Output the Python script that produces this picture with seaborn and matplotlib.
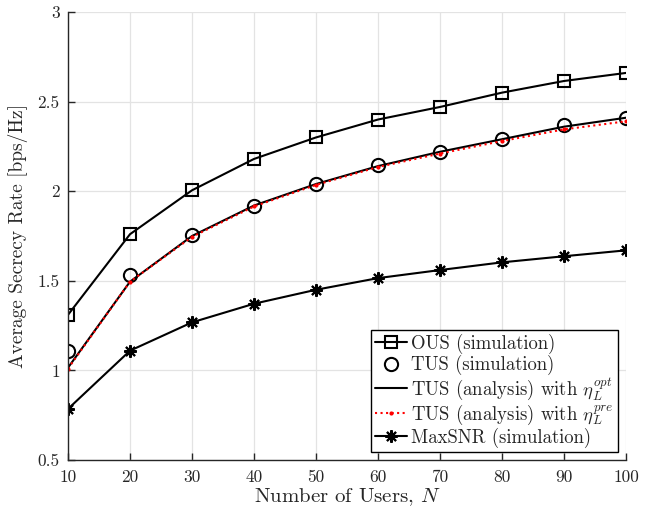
import numpy as np
import pandas as pd
import matplotlib
matplotlib.use("Agg")
import matplotlib.pyplot as plt
import seaborn as sns

users = [10, 20, 30, 40, 50, 60, 70, 80, 90, 100]
ous_sim = [1.31, 1.76, 2.005, 2.18, 2.30, 2.40, 2.47, 2.55, 2.615, 2.66]
tus_sim = [1.11, 1.53, 1.755, 1.92, 2.04, 2.145, 2.22, 2.29, 2.37, 2.41]
tus_opt = [1.015, 1.495, 1.75, 1.92, 2.04, 2.14, 2.22, 2.29, 2.36, 2.41]
tus_pre = [1.01, 1.495, 1.745, 1.915, 2.035, 2.135, 2.21, 2.28, 2.345, 2.39]
maxsnr_sim = [0.785, 1.11, 1.268, 1.372, 1.45, 1.515, 1.56, 1.603, 1.637, 1.67]

labels = ["OUS (simulation)", "TUS (simulation)",
          r"TUS (analysis) with $\eta_L^{opt}$",
          r"TUS (analysis) with $\eta_L^{pre}$",
          "MaxSNR (simulation)"]
xticks = [10, 20, 30, 40, 50, 60, 70, 80, 90, 100]
yticks = [0.5, 1, 1.5, 2, 2.5, 3]
ytick_labels = ["0.5", "1", "1.5", "2", "2.5", "3"]

sns.set_style("white")
plt.rcParams["font.family"] = ["cmr10"]
plt.rcParams["mathtext.fontset"] = "cm"
plt.rcParams["axes.formatter.use_mathtext"] = True

fig = plt.figure(figsize=(6.56, 5.16), dpi=100)
ax = fig.add_axes([68/656, 56/516, (626-68)/656, (460-12)/516])

sns.lineplot(x=users, y=ous_sim, ax=ax, color="black", lw=1.5, marker="s",
             markersize=8, markerfacecolor="none", markeredgecolor="black",
             markeredgewidth=1.5, label=labels[0])
sns.lineplot(x=users, y=tus_sim, ax=ax, color="black", lw=0, marker="o",
             markersize=9.5, markerfacecolor="none", markeredgecolor="black",
             markeredgewidth=1.5, label=labels[1])
sns.lineplot(x=users, y=tus_opt, ax=ax, color="black", lw=1.5,
             label=labels[2])
sns.lineplot(x=users, y=tus_pre, ax=ax, color="red", lw=1.5, ls=":",
             marker="o", markersize=3, markeredgewidth=0, label=labels[3])
sns.lineplot(x=users, y=maxsnr_sim, ax=ax, color="black", lw=1.5,
             marker=(8, 2, 0), markersize=9, markeredgewidth=1.5,
             markeredgecolor="black", label=labels[4])

ax.set_xlim(10, 100)
ax.set_ylim(0.5, 3)
ax.set_xticks(xticks)
ax.set_xticklabels([str(v) for v in xticks])
ax.set_yticks(yticks)
ax.set_yticklabels(ytick_labels)
ax.grid(True, color="#e3e3e3", lw=0.9)
for s in ["top", "right"]:
    ax.spines[s].set_visible(False)
for s in ["left", "bottom"]:
    ax.spines[s].set_color("#262626")
    ax.spines[s].set_linewidth(1.0)
ax.tick_params(direction="in", length=5, width=1, colors="#262626",
               labelsize=12.5, left=True, bottom=True)
ax.tick_params(axis="x", pad=7)
ax.tick_params(axis="y", pad=6)
ax.set_xlabel(r"Number of Users, $N$", fontsize=15, color="#262626", labelpad=1)
ax.set_ylabel("Average Secrecy Rate [bps/Hz]", fontsize=14, color="#262626", labelpad=7)

leg = ax.legend(loc="lower right", fontsize=13.5, frameon=True, fancybox=False,
                edgecolor="black", framealpha=1, borderpad=0.2,
                labelspacing=0.05, handlelength=1.7, handletextpad=0.25,
                borderaxespad=0.45)
leg.get_frame().set_linewidth(1.0)

fig.savefig("out.png", dpi=100)
